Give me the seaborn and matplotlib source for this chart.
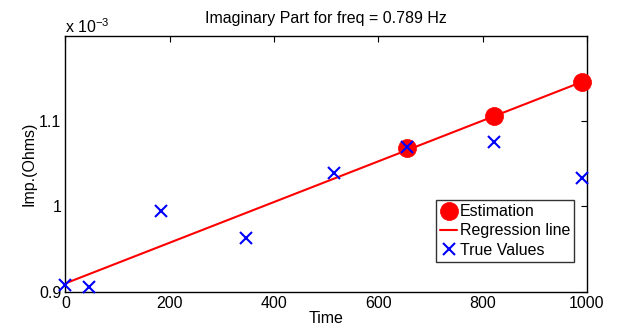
import matplotlib
matplotlib.use("Agg")
import matplotlib.pyplot as plt
import seaborn as sns
import pandas as pd

# Data (Ohms)
true_time = [0, 46, 184, 347, 514, 655, 822, 990]
true_vals = [0.9079e-3, 0.9052e-3, 0.9950e-3, 0.9633e-3, 1.0388e-3, 1.0700e-3, 1.0759e-3, 1.0330e-3]
est_time = [655, 822, 990]
est_vals = [1.0688e-3, 1.1060e-3, 1.1460e-3]
reg_time = [0, 990]
reg_vals = [0.9098e-3, 1.1460e-3]

xticks = [0, 200, 400, 600, 800, 1000]
yticks = [0.9e-3, 1.0e-3, 1.1e-3]
ytick_labels = ["0.9", "1", "1.1"]

sns.set_style("white")
plt.rcParams["font.family"] = ["Liberation Sans", "DejaVu Sans"]
plt.rcParams["mathtext.fontset"] = "custom"
plt.rcParams["mathtext.rm"] = "Liberation Sans"
plt.rcParams["text.color"] = "black"
plt.rcParams["axes.labelcolor"] = "black"

FS = 11.5

fig = plt.figure(figsize=(6.22, 3.27), dpi=100)
ax = fig.add_axes([0.1053, 0.108, 0.8384, 0.782])

df_est = pd.DataFrame({"t": est_time, "v": est_vals})
df_reg = pd.DataFrame({"t": reg_time, "v": reg_vals})
df_true = pd.DataFrame({"t": true_time, "v": true_vals})

sns.lineplot(data=df_est, x="t", y="v", ax=ax, marker="o", markersize=13, linestyle="none",
             color="#ff0000", markeredgecolor="#ff0000", markeredgewidth=0.5,
             label="Estimation", zorder=3, clip_on=False)
sns.lineplot(data=df_reg, x="t", y="v", ax=ax, color="#ff0000", linewidth=1.5,
             label="Regression line", zorder=2)
sns.lineplot(data=df_true, x="t", y="v", ax=ax, marker="x", markersize=9, markeredgewidth=1.5,
             markeredgecolor="#0000ff", linestyle="none", color="#0000ff",
             label="True Values", zorder=4, clip_on=False)

ax.set_xlim(0, 1000)
ax.set_ylim(0.9e-3, 1.2e-3)
ax.set_xticks(xticks)
ax.set_xticklabels([str(t) for t in xticks])
ax.set_yticks(yticks)
ax.set_yticklabels(ytick_labels)
ax.tick_params(direction="in", top=True, right=True, length=4, width=0.8,
               labelsize=FS, colors="black", pad=3)
for s in ax.spines.values():
    s.set_visible(True)
    s.set_color("black")
    s.set_linewidth(1.0)

ax.set_xlabel("Time", fontsize=FS, labelpad=0, color="black")
ax.set_ylabel("Imp.(Ohms)", fontsize=FS, labelpad=2, color="black")
ax.set_title("Imaginary Part for freq = 0.789 Hz", fontsize=FS, pad=9, color="black")
ax.text(0.0, 1.01, r"x 10$^{-3}$", transform=ax.transAxes, fontsize=FS,
        ha="left", va="baseline", color="black")

leg = ax.legend(loc="lower left", bbox_to_anchor=(0.71, 0.117), fontsize=FS,
                frameon=True, fancybox=False, borderpad=0.25, handlelength=1.1,
                handletextpad=0.15, labelspacing=0.27, borderaxespad=0)
leg.get_frame().set_edgecolor("black")
leg.get_frame().set_linewidth(1.0)
for t in leg.get_texts():
    t.set_color("black")

fig.savefig("out.png", dpi=100)
